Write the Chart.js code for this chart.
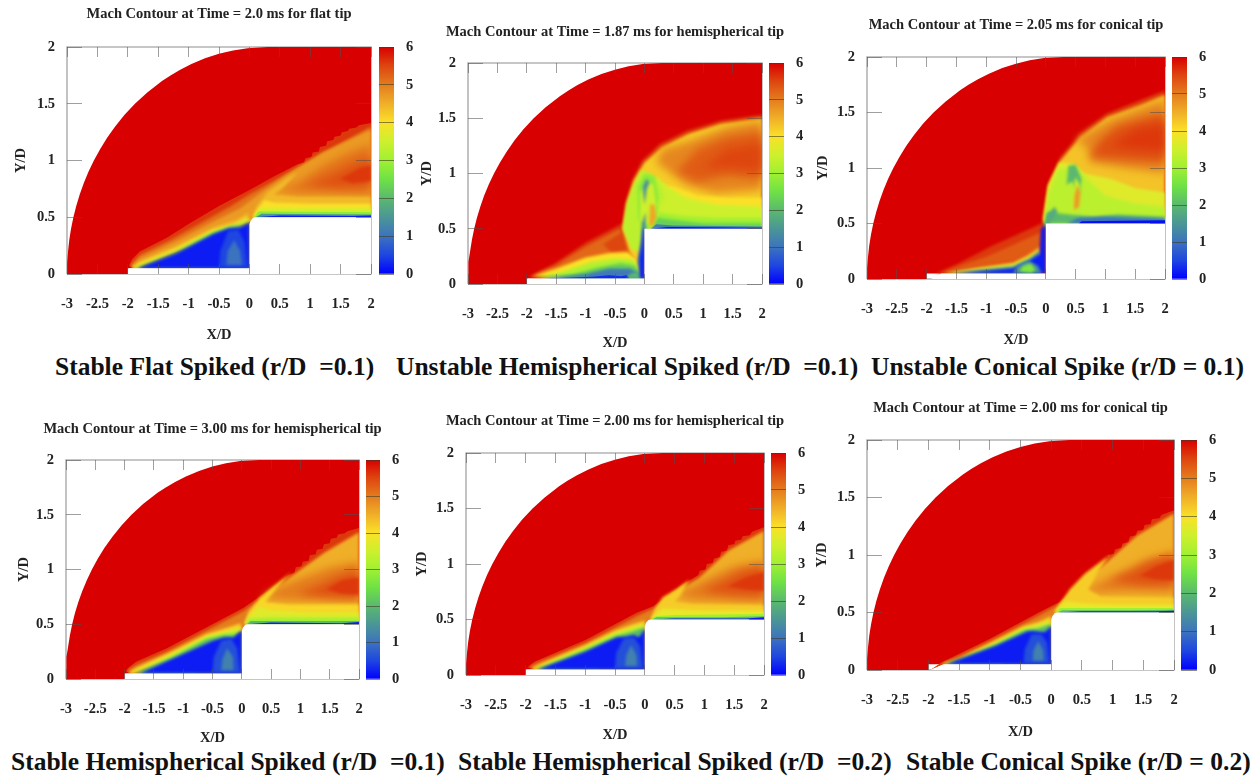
<!DOCTYPE html>
<html>
<head>
<meta charset="utf-8">
<title>Mach contours</title>
<script src="https://cdn.jsdelivr.net/npm/chart.js@4"></script>
<style>
  html, body { margin: 0; padding: 0; background: #fff; width: 1260px; height: 777px; overflow: hidden; }
  canvas { position: absolute; }
  .cap { position: absolute; font: bold 25.5px "Liberation Serif", serif; color: #111; white-space: pre; line-height: 28px; }
</style>
</head>
<body>
<script>
// axis values
const xTicks = [-3, -2.5, -2, -1.5, -1, -0.5, 0, 0.5, 1, 1.5, 2];
const yTicks = [0, 0.5, 1, 1.5, 2];
const barTicks = [0, 1, 2, 3, 4, 5, 6];

// colour bar, every half Mach
const barLevels = [0, 0.5, 1, 1.5, 2, 2.5, 3, 3.5, 4, 4.5, 5, 5.5, 6];
const barColors = [
  [0, 0, 255], [30, 70, 225], [60, 115, 190], [75, 150, 150], [90, 185, 110], [110, 225, 70], [160, 240, 50],
  [205, 240, 45], [250, 225, 40], [240, 175, 40], [228, 125, 30], [222, 70, 15], [216, 0, 0]
];
const barRange = [[0, 6]];

// plot frame
const frame = [[-3, 0], [2, 0], [2, 2], [-3, 2], [-3, 0]];

// outer shock, same in every panel
const bowShock = [
  [-3, 0], [-2.999, 0.05], [-2.996, 0.1], [-2.983, 0.2], [-2.963, 0.3], [-2.933, 0.4], [-2.895, 0.5], [-2.848, 0.6], [-2.791, 0.7],
  [-2.725, 0.8], [-2.647, 0.9], [-2.558, 1], [-2.456, 1.1], [-2.34, 1.2], [-2.208, 1.3], [-2.057, 1.4], [-1.883, 1.5], [-1.68, 1.6],
  [-1.438, 1.7], [-1.298, 1.75], [-1.138, 1.8], [-0.954, 1.85], [-0.73, 1.9], [-0.502, 1.94], [-0.269, 1.97], [-0.03, 1.99], [0.3, 2],
  [2, 2], [2, 0.5], [0, 0.05], [-2, 0.05], [-2, 0]
];

// white body + spike
const bodyRound = [[-2, 0], [-1.98, 0.05], [0, 0.05], [0, 0.44], [0.02, 0.47], [0.06, 0.495], [0.1, 0.5], [2, 0.5], [2, 0]];
const bodySharp = [[-2, 0], [-1.98, 0.05], [0, 0.05], [0, 0.5], [2, 0.5], [2, 0]];
const bodyCone = [[-1.97, 0], [-1.75, 0.05], [0, 0.05], [0, 0.44], [0.02, 0.47], [0.06, 0.495], [0.1, 0.5], [2, 0.5], [2, 0]];
const bodyConeSharp = [[-1.93, 0], [-1.75, 0.05], [0, 0.05], [0, 0.5], [2, 0.5], [2, 0]];

// panel 1, flat tip
const flatLevels = [5.6, 5.1, 4.7, 5.1, 5.4, 5.6, 4.4, 4.0, 3.5, 2.8, 1.5, 0.2, 4.4, 3.9, 3, 2, 0.2, 0.5, 1];
const flatOutlines = [
  [[-1.98, 0.07], [-1.93, 0.13], [-1.8, 0.2], [-1.36, 0.32], [-1, 0.44], [-0.5, 0.6], [0, 0.74], [0.4, 0.86], [0.8, 0.97], [0.9, 0.98], [0.92, 1.02], [1.02, 1.03], [1.04, 1.07], [1.14, 1.08], [1.16, 1.12], [1.26, 1.13], [1.28, 1.17], [1.38, 1.18], [1.4, 1.21], [1.5, 1.22], [1.52, 1.25], [1.62, 1.26], [1.64, 1.28], [1.76, 1.29], [1.8, 1.31], [2, 1.33], [2, 0.5], [0, 0.46], [-1.9, 0.05]],
  [[-1.95, 0.08], [-1.8, 0.17], [-1.3, 0.3], [-0.8, 0.45], [-0.3, 0.6], [0, 0.7], [0.4, 0.82], [0.8, 0.94], [1.4, 1.12], [2, 1.3], [2, 0.5], [0, 0.46], [-1.9, 0.05]],
  [[-1.93, 0.07], [-1.8, 0.14], [-1.2, 0.29], [-0.6, 0.46], [-0.15, 0.58], [0.2, 0.72], [0.6, 0.87], [1.2, 1.07], [2, 1.27], [2, 0.5], [0, 0.46], [-1.9, 0.05]],
  [[0.45, 0.74], [0.8, 0.8], [1.2, 0.95], [1.6, 1.06], [2, 1.14], [2, 0.7], [1.4, 0.72], [0.8, 0.72]],
  [[0.95, 0.78], [1.3, 0.86], [1.7, 0.97], [2, 1.03], [2, 0.78], [1.5, 0.76]],
  [[1.5, 0.84], [1.8, 0.93], [2, 0.96], [2, 0.82], [1.7, 0.8]],
  [[0.05, 0.5], [0.12, 0.6], [0.3, 0.72], [0.6, 0.84], [0.8, 0.9], [0.55, 0.76], [0.4, 0.7], [0.8, 0.68], [2, 0.68], [2, 0.5]],
  [[0.06, 0.5], [0.13, 0.57], [0.25, 0.65], [0.4, 0.63], [1, 0.62], [2, 0.62], [2, 0.5]],
  [[0.07, 0.5], [0.18, 0.58], [0.5, 0.58], [2, 0.58], [2, 0.5]],
  [[0.08, 0.5], [0.15, 0.55], [2, 0.545], [2, 0.5]],
  [[0.1, 0.5], [0.2, 0.53], [2, 0.525], [2, 0.5]],
  [[0.08, 0.5], [0.5, 0.515], [1.7, 0.51], [2, 0.515], [2, 0.5]],
  [[-1.93, 0.06], [-1.8, 0.11], [-1.2, 0.25], [-0.6, 0.41], [-0.2, 0.48], [-0.02, 0.54], [0, 0.46], [-1.9, 0.05]],
  [[-1.93, 0.05], [-1.8, 0.1], [-1.2, 0.23], [-0.6, 0.39], [-0.25, 0.44], [-0.05, 0.5], [0, 0.47], [-1.85, 0.05]],
  [[-1.92, 0.05], [-1.75, 0.085], [-1.2, 0.21], [-0.6, 0.375], [-0.25, 0.43], [-0.02, 0.48], [0, 0.47], [-1.85, 0.05]],
  [[-1.85, 0.05], [-1.2, 0.19], [-0.6, 0.36], [-0.3, 0.42], [-0.1, 0.43], [0, 0.46], [0, 0.05]],
  [[-1.83, 0.05], [-1.2, 0.18], [-0.6, 0.35], [-0.35, 0.4], [-0.15, 0.41], [0, 0.45], [0, 0.05]],
  [[-0.5, 0.06], [-0.48, 0.2], [-0.35, 0.38], [-0.18, 0.39], [-0.08, 0.28], [-0.03, 0.06]],
  [[-0.38, 0.08], [-0.36, 0.2], [-0.25, 0.3], [-0.15, 0.2], [-0.12, 0.08]]
];

// panel 2, unstable hemispherical
const unstableHemiLevels = [5.6, 5.2, 5.5, 4.2, 4.9, 5.3, 5.5, 4, 3.5, 3.3, 3, 2.3, 1.2, 0.1, 2.8, 3.5, 1.4, 4.6, 4, 3.2, 2.3, 1.1, 0.3, 2, 1.3, 0.2];
const unstableHemiOutlines = [
  [[-1.97, 0.06], [-1.88, 0.09], [-1.54, 0.18], [-0.98, 0.38], [-0.37, 0.55], [-0.33, 0.73], [-0.21, 0.94], [-0.04, 1.12], [0.27, 1.27], [0.72, 1.39], [1.29, 1.48], [2, 1.53], [2, 0.5], [0, 0.05], [-1.9, 0.05]],
  [[-1.85, 0.09], [-1.5, 0.17], [-1, 0.34], [-0.42, 0.5], [-0.25, 0.3], [-0.6, 0.2], [-1.2, 0.13]],
  [[-0.7, 0.36], [-0.38, 0.47], [-0.27, 0.31], [-0.55, 0.28]],
  [[-0.37, 0.5], [-0.3, 0.73], [-0.18, 0.94], [0, 1.1], [0.3, 1.24], [0.75, 1.36], [1.3, 1.45], [2, 1.5], [2, 0.5], [0, 0.5], [-0.1, 0.2], [-0.25, 0.28]],
  [[0.3, 1.22], [0.8, 1.3], [1.4, 1.42], [2, 1.48], [2, 0.85], [1.2, 0.82], [0.7, 0.9], [0.45, 1], [0.2, 1.1]],
  [[0.55, 1.02], [0.9, 1.22], [1.4, 1.33], [2, 1.38], [2, 0.95], [1.4, 0.98], [0.9, 0.92]],
  [[1, 1.05], [1.4, 1.22], [2, 1.28], [2, 1.02], [1.5, 1.05]],
  [[0.12, 0.5], [0.3, 0.9], [0.5, 0.88], [0.9, 0.8], [1.4, 0.78], [2, 0.78], [2, 0.5]],
  [[0.1, 0.5], [0.2, 0.98], [0.4, 0.88], [0.7, 0.78], [1.2, 0.72], [2, 0.7], [2, 0.5]],
  [[-0.37, 0.5], [-0.3, 0.73], [-0.2, 0.88], [-0.05, 1.03], [0.1, 1], [0.25, 0.92], [0.35, 0.8], [0.2, 0.6], [0.12, 0.5], [0, 0.5], [-0.08, 0.3], [-0.2, 0.3]],
  [[0.14, 0.5], [0.25, 0.65], [0.6, 0.62], [1.2, 0.6], [2, 0.6], [2, 0.5]],
  [[0.12, 0.5], [0.22, 0.6], [0.5, 0.58], [1, 0.55], [2, 0.55], [2, 0.5]],
  [[0.1, 0.5], [0.2, 0.54], [0.5, 0.53], [2, 0.52], [2, 0.5]],
  [[0.1, 0.5], [0.4, 0.515], [2, 0.51], [2, 0.5]],
  [[-0.1, 0.6], [-0.12, 0.88], [0, 1], [0.17, 0.98], [0.24, 0.8], [0.2, 0.6], [0.1, 0.5], [0, 0.5]],
  [[-0.06, 0.56], [-0.07, 0.82], [0.04, 0.93], [0.15, 0.9], [0.2, 0.72], [0.12, 0.52]],
  [[0, 0.72], [-0.03, 0.88], [0.03, 0.95], [0.09, 0.92], [0.04, 0.86], [0.02, 0.78]],
  [[0.08, 0.54], [0.1, 0.72], [0.17, 0.72], [0.2, 0.6], [0.14, 0.52]],
  [[-1.92, 0.07], [-1.5, 0.14], [-1, 0.24], [-0.6, 0.28], [-0.28, 0.29], [-0.1, 0.22], [-0.08, 0.05]],
  [[-1.85, 0.055], [-1.4, 0.11], [-0.9, 0.2], [-0.5, 0.23], [-0.2, 0.22], [-0.1, 0.15], [-0.08, 0.05]],
  [[-1.75, 0.05], [-1.2, 0.09], [-0.8, 0.15], [-0.4, 0.19], [-0.18, 0.17], [-0.1, 0.13], [-0.08, 0.05]],
  [[-1.7, 0.05], [-1, 0.09], [-0.6, 0.14], [-0.25, 0.14], [-0.1, 0.1], [-0.02, 0.05]],
  [[-1.7, 0.05], [-0.9, 0.065], [-0.6, 0.08], [-0.4, 0.07], [-0.3, 0.08], [-0.25, 0.05]],
  [[-0.3, 0.05], [-0.25, 0.09], [-0.13, 0.11], [-0.05, 0.07], [-0.03, 0.05]],
  [[-0.12, 0.2], [-0.06, 0.4], [-0.04, 0.55], [0.02, 0.65], [0.02, 0.5], [0, 0.05], [-0.06, 0.05]],
  [[-0.07, 0.05], [-0.08, 0.23], [-0.04, 0.35], [-0.02, 0.5], [0, 0.5], [0, 0.05]]
];

// panel 3, unstable conical
const unstableConeLevels = [5.6, 5.3, 4.4, 3.3, 1, 0.2, 1.4, 2.7, 4.3, 4.9, 5.4, 5.6, 3.7, 3.3, 2, 2, 3.4, 4.7, 1.8, 1, 0.1];
const unstableConeOutlines = [
  [[-1.94, 0.03], [-1.5, 0.13], [-0.9, 0.3], [-0.07, 0.5], [-0.04, 0.59], [0.04, 0.86], [0.24, 1.1], [0.57, 1.31], [1.02, 1.49], [1.58, 1.61], [2, 1.7], [2, 0.5], [0, 0.05], [-1.85, 0.05]],
  [[-1.7, 0.07], [-1, 0.2], [-0.5, 0.32], [-0.09, 0.42], [-0.1, 0.28], [-0.55, 0.16]],
  [[-1.75, 0.055], [-1.1, 0.11], [-0.55, 0.15], [-0.3, 0.22], [-0.1, 0.29], [-0.1, 0.24], [-0.55, 0.05]],
  [[-1.7, 0.05], [-0.55, 0.13], [-0.3, 0.19], [-0.1, 0.26], [-0.1, 0.2], [-0.5, 0.05]],
  [[-1.6, 0.05], [-0.55, 0.11], [-0.3, 0.17], [-0.1, 0.25], [-0.1, 0.05]],
  [[-1.5, 0.05], [-0.55, 0.09], [-0.3, 0.15], [-0.1, 0.22], [-0.08, 0.45], [0, 0.5], [0, 0.05]],
  [[-0.55, 0.05], [-0.48, 0.12], [-0.3, 0.17], [-0.13, 0.12], [-0.07, 0.05]],
  [[-0.45, 0.07], [-0.38, 0.12], [-0.25, 0.14], [-0.17, 0.08], [-0.25, 0.055]],
  [[-0.04, 0.55], [0.04, 0.84], [0.25, 1.07], [0.58, 1.28], [1.03, 1.46], [1.6, 1.57], [2, 1.66], [2, 0.5], [0, 0.5]],
  [[0.5, 1.25], [1.03, 1.42], [1.6, 1.54], [2, 1.62], [2, 0.95], [1.3, 1], [0.75, 1.05], [0.7, 1.18]],
  [[0.75, 1.1], [0.9, 1.25], [1.2, 1.38], [2, 1.5], [2, 1.05], [1.4, 1.07]],
  [[1.1, 1.2], [1.5, 1.35], [2, 1.4], [2, 1.15], [1.5, 1.17]],
  [[-0.04, 0.52], [0.04, 0.84], [0.22, 1.05], [0.45, 1.04], [0.65, 0.95], [1.1, 0.9], [1.5, 0.82], [2, 0.78], [2, 0.5], [0, 0.5]],
  [[-0.02, 0.5], [0.05, 0.78], [0.2, 0.98], [0.5, 1.03], [0.7, 0.9], [1, 0.75], [1.5, 0.68], [2, 0.65], [2, 0.5]],
  [[0, 0.5], [0.02, 0.6], [0.1, 0.6], [0.4, 0.58], [0.8, 0.56], [1.2, 0.58], [2, 0.56], [2, 0.5]],
  [[0.35, 0.85], [0.38, 1.02], [0.5, 1.03], [0.6, 0.9], [0.55, 0.72], [0.5, 0.8], [0.45, 0.88]],
  [[0.42, 0.6], [0.44, 0.78], [0.5, 0.92], [0.58, 0.84], [0.6, 0.65]],
  [[0.47, 0.62], [0.48, 0.75], [0.53, 0.85], [0.58, 0.78], [0.56, 0.65]],
  [[-0.03, 0.47], [0.02, 0.58], [0.15, 0.65], [0.2, 0.6], [0.1, 0.53], [0.03, 0.47]],
  [[0.35, 0.5], [0.55, 0.55], [1, 0.56], [2, 0.54], [2, 0.5]],
  [[0.55, 0.5], [0.6, 0.52], [2, 0.53], [2, 0.5]]
];

// panel 4, stable hemispherical r/D 0.1
const stableHemiLevels = [5.6, 5, 4.5, 5, 5.4, 5.6, 4.1, 3.7, 3, 2, 0.2, 4.2, 3.8, 3, 2, 0.2, 0.6, 1.2];
const stableHemiOutlines = [
  [[-1.98, 0.07], [-1.94, 0.1], [-1.8, 0.16], [-1.28, 0.28], [-0.43, 0.52], [0.03, 0.65], [0.43, 0.8], [0.8, 0.95], [0.9, 0.97], [0.92, 1.02], [1.02, 1.03], [1.04, 1.07], [1.14, 1.08], [1.16, 1.13], [1.26, 1.14], [1.28, 1.18], [1.38, 1.19], [1.4, 1.23], [1.5, 1.24], [1.52, 1.28], [1.62, 1.29], [1.64, 1.32], [1.76, 1.33], [1.8, 1.35], [2, 1.38], [2, 0.5], [0, 0.44], [-1.9, 0.05]],
  [[-1.94, 0.08], [-1.8, 0.13], [-1.28, 0.25], [-0.43, 0.49], [0.03, 0.62], [0.25, 0.71], [0.3, 0.6], [0.1, 0.5], [0, 0.44], [-1.9, 0.05]],
  [[0.03, 0.5], [0.12, 0.62], [0.43, 0.76], [0.8, 0.92], [1.4, 1.15], [2, 1.34], [2, 0.5]],
  [[0.31, 0.74], [0.6, 0.83], [1, 0.92], [1.5, 1.02], [2, 1.07], [2, 0.71], [1.4, 0.72], [0.8, 0.72]],
  [[0.95, 0.78], [1.3, 0.85], [1.6, 0.93], [2, 1], [2, 0.74], [1.5, 0.75]],
  [[1.45, 0.82], [1.7, 0.9], [2, 0.93], [2, 0.77], [1.7, 0.78]],
  [[0.05, 0.5], [0.12, 0.6], [0.3, 0.74], [0.55, 0.85], [0.85, 0.98], [0.55, 0.8], [0.4, 0.7], [0.8, 0.68], [2, 0.68], [2, 0.5]],
  [[0.06, 0.5], [0.13, 0.58], [0.3, 0.66], [0.5, 0.63], [1, 0.61], [2, 0.61], [2, 0.5]],
  [[0.07, 0.5], [0.12, 0.55], [0.5, 0.56], [2, 0.56], [2, 0.5]],
  [[0.08, 0.5], [0.15, 0.53], [2, 0.53], [2, 0.5]],
  [[0.08, 0.5], [0.5, 0.515], [1.7, 0.51], [2, 0.52], [2, 0.5]],
  [[-1.93, 0.06], [-1.8, 0.1], [-1.2, 0.25], [-0.6, 0.41], [-0.25, 0.47], [-0.02, 0.51], [0, 0.44], [-1.9, 0.05]],
  [[-1.92, 0.05], [-1.8, 0.09], [-1.2, 0.23], [-0.6, 0.395], [-0.25, 0.44], [-0.05, 0.47], [0, 0.45], [-1.85, 0.05]],
  [[-1.85, 0.05], [-1.7, 0.08], [-1.2, 0.21], [-0.6, 0.38], [-0.25, 0.42], [0, 0.45], [-0.8, 0.05]],
  [[-1.8, 0.05], [-1.2, 0.19], [-0.6, 0.36], [-0.3, 0.4], [-0.12, 0.4], [0, 0.44], [0, 0.05]],
  [[-1.74, 0.05], [-1.2, 0.18], [-0.49, 0.35], [-0.3, 0.38], [-0.14, 0.38], [0, 0.44], [0, 0.05]],
  [[-0.5, 0.06], [-0.48, 0.2], [-0.35, 0.35], [-0.18, 0.37], [-0.08, 0.28], [-0.03, 0.06]],
  [[-0.35, 0.08], [-0.33, 0.18], [-0.25, 0.28], [-0.15, 0.2], [-0.14, 0.08]]
];

// panel 5, stable hemispherical r/D 0.2
const bluntHemiLevels = [5.6, 5, 4.5, 5, 5.4, 5.6, 4.2, 3.8, 3, 2, 0.2, 4.2, 3.7, 3, 2, 0.2, 0.6, 1.2];
const bluntHemiOutlines = [
  [[-1.97, 0.07], [-1.85, 0.12], [-0.98, 0.32], [-0.14, 0.56], [0.145, 0.62], [0.59, 0.8], [0.9, 0.9], [0.92, 0.94], [1.02, 0.95], [1.04, 1], [1.14, 1.01], [1.16, 1.05], [1.26, 1.06], [1.28, 1.11], [1.38, 1.12], [1.4, 1.17], [1.5, 1.18], [1.52, 1.21], [1.62, 1.22], [1.64, 1.25], [1.76, 1.26], [1.8, 1.29], [2, 1.33], [2, 0.5], [0, 0.41], [-1.85, 0.05]],
  [[-1.93, 0.07], [-1.8, 0.11], [-0.98, 0.29], [-0.14, 0.53], [0.14, 0.6], [0.35, 0.68], [0.35, 0.58], [0.12, 0.5], [0, 0.41], [-1.85, 0.05]],
  [[0.1, 0.5], [0.2, 0.6], [0.59, 0.77], [0.9, 0.87], [1.4, 1.12], [2, 1.3], [2, 0.5]],
  [[0.5, 0.72], [0.8, 0.8], [1.1, 0.88], [1.5, 0.98], [2, 1.03], [2, 0.66], [1.4, 0.67], [0.8, 0.68]],
  [[0.95, 0.76], [1.3, 0.84], [1.6, 0.93], [2, 0.98], [2, 0.71], [1.5, 0.72]],
  [[1.4, 0.8], [1.7, 0.88], [2, 0.93], [2, 0.76], [1.7, 0.77]],
  [[0.1, 0.5], [0.16, 0.58], [0.3, 0.7], [0.55, 0.78], [0.75, 0.86], [0.6, 0.72], [0.5, 0.66], [0.8, 0.64], [2, 0.63], [2, 0.5]],
  [[0.1, 0.5], [0.18, 0.55], [0.3, 0.6], [0.6, 0.59], [1, 0.58], [2, 0.58], [2, 0.5]],
  [[0.1, 0.5], [0.18, 0.53], [0.5, 0.54], [2, 0.55], [2, 0.5]],
  [[0.12, 0.5], [0.2, 0.52], [1.3, 0.52], [2, 0.53], [2, 0.5]],
  [[0.12, 0.5], [0.5, 0.51], [1.7, 0.51], [2, 0.52], [2, 0.5]],
  [[-1.9, 0.06], [-1.7, 0.11], [-1, 0.27], [-0.5, 0.4], [-0.2, 0.46], [0, 0.49], [0, 0.41], [-1.85, 0.05]],
  [[-1.88, 0.05], [-1.7, 0.095], [-1, 0.25], [-0.5, 0.38], [-0.2, 0.43], [-0.03, 0.46], [0, 0.42], [-1.8, 0.05]],
  [[-1.84, 0.05], [-1.7, 0.08], [-1, 0.24], [-0.5, 0.365], [-0.2, 0.41], [0, 0.44], [-0.8, 0.05]],
  [[-1.8, 0.05], [-1, 0.22], [-0.47, 0.35], [-0.2, 0.39], [0, 0.43], [0, 0.05]],
  [[-1.79, 0.05], [-1, 0.21], [-0.47, 0.34], [-0.3, 0.345], [-0.19, 0.36], [-0.1, 0.34], [0, 0.41], [0, 0.05]],
  [[-0.5, 0.06], [-0.48, 0.2], [-0.35, 0.33], [-0.18, 0.34], [-0.08, 0.26], [-0.03, 0.06]],
  [[-0.33, 0.08], [-0.31, 0.18], [-0.23, 0.27], [-0.14, 0.18], [-0.13, 0.08]]
];

// panel 6, stable conical r/D 0.2
const stableConeLevels = [5.6, 5, 4.5, 5, 5.4, 5.6, 4.2, 3.8, 3, 2, 0.2, 4.2, 3.7, 3, 2, 0.2, 0.6, 1.2];
const stableConeOutlines = [
  [[-1.97, 0], [-1.8, 0.06], [-0.99, 0.275], [-0.18, 0.507], [0.15, 0.594], [0.47, 0.77], [0.91, 0.97], [0.92, 1], [1.02, 1.01], [1.04, 1.05], [1.14, 1.06], [1.16, 1.1], [1.26, 1.11], [1.28, 1.16], [1.38, 1.17], [1.4, 1.21], [1.5, 1.22], [1.52, 1.26], [1.62, 1.27], [1.64, 1.31], [1.76, 1.32], [1.8, 1.35], [2, 1.39], [2, 0.5], [0, 0.38], [-1.75, 0.05]],
  [[-1.85, 0.03], [-1.7, 0.07], [-0.99, 0.25], [-0.18, 0.48], [0.12, 0.57], [0.3, 0.66], [0.3, 0.56], [0.1, 0.5], [0, 0.38], [-1.75, 0.05]],
  [[0.05, 0.5], [0.2, 0.6], [0.47, 0.74], [0.91, 0.94], [1.4, 1.17], [2, 1.36], [2, 0.5]],
  [[0.5, 0.68], [0.8, 0.76], [1.1, 0.84], [1.5, 0.95], [2, 1.03], [2, 0.68], [1.4, 0.69], [0.8, 0.68]],
  [[0.95, 0.78], [1.3, 0.85], [1.6, 0.94], [2, 1], [2, 0.74], [1.5, 0.74]],
  [[1.45, 0.82], [1.7, 0.9], [2, 0.96], [2, 0.78], [1.7, 0.79]],
  [[0.05, 0.5], [0.13, 0.56], [0.3, 0.7], [0.55, 0.84], [0.95, 1], [0.75, 0.84], [0.6, 0.7], [0.8, 0.64], [2, 0.63], [2, 0.5]],
  [[0.06, 0.5], [0.14, 0.56], [0.25, 0.6], [0.5, 0.58], [1, 0.57], [2, 0.57], [2, 0.5]],
  [[0.08, 0.5], [0.14, 0.54], [0.5, 0.54], [2, 0.54], [2, 0.5]],
  [[0.1, 0.5], [0.18, 0.52], [1.3, 0.52], [2, 0.525], [2, 0.5]],
  [[0.1, 0.5], [0.5, 0.51], [1.7, 0.51], [2, 0.515], [2, 0.5]],
  [[-1.8, 0.05], [-1.5, 0.1], [-0.9, 0.26], [-0.45, 0.38], [-0.2, 0.42], [0, 0.47], [0, 0.38], [-1.7, 0.05]],
  [[-1.76, 0.05], [-1.5, 0.09], [-0.9, 0.24], [-0.45, 0.365], [-0.2, 0.395], [-0.03, 0.43], [0, 0.39], [-1.7, 0.05]],
  [[-1.74, 0.05], [-1.5, 0.085], [-0.9, 0.23], [-0.45, 0.355], [-0.2, 0.375], [0, 0.41], [-0.8, 0.05]],
  [[-1.72, 0.05], [-0.9, 0.22], [-0.42, 0.345], [-0.2, 0.36], [0, 0.4], [0, 0.05]],
  [[-1.7, 0.05], [-0.9, 0.21], [-0.39, 0.335], [-0.3, 0.34], [-0.18, 0.33], [-0.1, 0.33], [0, 0.38], [0, 0.05]],
  [[-0.45, 0.06], [-0.43, 0.18], [-0.32, 0.31], [-0.16, 0.31], [-0.07, 0.24], [-0.03, 0.06]],
  [[-0.3, 0.08], [-0.29, 0.17], [-0.21, 0.25], [-0.13, 0.17], [-0.12, 0.08]]
];

// placement of the six panels on the page
const panels = [
  { title: "Mach Contour at Time = 2.0 ms for flat tip", levels: flatLevels, outlines: flatOutlines, body: bodyRound,
    L: 67, R: 371, T: 47, B: 274, barL: 379, barR: 394, titleY: 14, xLabelY: 335, yLabelX: 22 },
  { title: "Mach Contour at Time = 1.87 ms for hemispherical tip", levels: unstableHemiLevels, outlines: unstableHemiOutlines, body: bodySharp,
    L: 468, R: 762, T: 63, B: 284, barL: 769, barR: 784, titleY: 32, xLabelY: 343, yLabelX: 428 },
  { title: "Mach Contour at Time = 2.05 ms for conical tip", levels: unstableConeLevels, outlines: unstableConeOutlines, body: bodyConeSharp,
    L: 867, R: 1165, T: 57, B: 279, barL: 1172, barR: 1187, titleY: 25, xLabelY: 340, yLabelX: 824 },
  { title: "Mach Contour at Time = 3.00 ms for hemispherical tip", levels: stableHemiLevels, outlines: stableHemiOutlines, body: bodyRound,
    L: 66, R: 359, T: 460, B: 679, barL: 366, barR: 380, titleY: 429, xLabelY: 738, yLabelX: 25 },
  { title: "Mach Contour at Time = 2.00 ms for hemispherical tip", levels: bluntHemiLevels, outlines: bluntHemiOutlines, body: bodyRound,
    L: 466, R: 764, T: 453, B: 675, barL: 771, barR: 786, titleY: 421, xLabelY: 735, yLabelX: 423 },
  { title: "Mach Contour at Time = 2.00 ms for conical tip", levels: stableConeLevels, outlines: stableConeOutlines, body: bodyCone,
    L: 867, R: 1174, T: 440, B: 670, barL: 1181, barR: 1197, titleY: 408, xLabelY: 732, yLabelX: 823 }
];

const captions = [
  ["Stable Flat Spiked (r/D  =0.1)", 55, 353],
  ["Unstable Hemispherical Spiked (r/D  =0.1)", 396, 353],
  ["Unstable Conical Spike (r/D = 0.1)", 871, 353],
  ["Stable Hemispherical Spiked (r/D  =0.1)", 11, 748],
  ["Stable Hemispherical Spiked (r/D  =0.2)", 458, 748],
  ["Stable Conical Spike (r/D = 0.2)", 906, 748]
];

Chart.defaults.font.family = '"Liberation Serif", serif';
Chart.defaults.font.weight = "bold";
Chart.defaults.color = "#222";

const frameColor = "#b4b4b4";
const tickColor = "rgba(80,80,80,0.55)";
const titleHeight = 18;

function machColor(m) {
  let i = 0;
  while (i < barLevels.length - 2 && m > barLevels[i + 1]) i++;
  const t = (m - barLevels[i]) / (barLevels[i + 1] - barLevels[i]);
  const c = barColors[i].map((v, k) => Math.round(v + (barColors[i + 1][k] - v) * t));
  return `rgb(${c[0]},${c[1]},${c[2]})`;
}

// wide floating lenses get a heavy blur, thin strips and toothed shock edges almost none
function softness(outline) {
  const xs = outline.map(p => p[0]);
  const ys = outline.map(p => p[1]);
  const w = Math.max(...xs) - Math.min(...xs);
  const h = Math.max(...ys) - Math.min(...ys);
  if (outline.length > 20) return 0.7;
  if (Math.min(...ys) >= 0.6 && w >= 0.7) return 4;
  if (h < 0.06) return 0.6;
  return 1.5;
}

function layer(outline, color, soft) {
  return {
    data: outline.map(p => ({ x: p[0], y: p[1] })),
    showLine: true,
    fill: "shape",
    backgroundColor: color,
    borderWidth: 0,
    pointRadius: 0,
    soft: soft === undefined ? softness(outline) : soft
  };
}

// the filler paints on beforeDatasetDraw, so the filter for a layer is set once the previous layer is done
const softEdges = {
  id: "softEdges",
  beforeDatasetsDraw(chart) { chart.ctx.filter = "none"; },
  afterDatasetDraw(chart, args) {
    const next = chart.data.datasets[args.index + 1];
    chart.ctx.filter = next ? `blur(${next.soft}px)` : "none";
  },
  afterDatasetsDraw(chart) { chart.ctx.filter = "none"; }
};

function addCanvas(left, top, width, height) {
  const c = document.createElement("canvas");
  c.width = width;
  c.height = height;
  c.style.left = left + "px";
  c.style.top = top + "px";
  document.body.appendChild(c);
  return c;
}

function fixedTicks(list) {
  return scale => { scale.ticks = list.map(v => ({ value: v })); };
}

function noPadding(s) {
  s.paddingLeft = s.paddingRight = s.paddingTop = s.paddingBottom = 0;
}

function drawPanel(p) {
  const left = p.yLabelX - 9;
  const top = p.titleY - 9;
  // same margin on both sides, the chart title is centred on the canvas
  const right = p.R + (p.L - left);
  const bottom = p.xLabelY + 9;

  const datasets = [{
    data: frame.map(q => ({ x: q[0], y: q[1] })),
    showLine: true,
    fill: false,
    borderColor: frameColor,
    borderWidth: 1.6,
    pointRadius: 0,
    clip: 4,
    soft: 0
  }];
  datasets.push(layer(bowShock, machColor(6), 0.7));
  p.levels.forEach((m, i) => datasets.push(layer(p.outlines[i], machColor(m))));
  datasets.push(layer(p.body, "#fff", 0.5));
  // first dataset has to be painted first
  datasets.forEach((d, i) => { d.order = datasets.length - i; });

  new Chart(addCanvas(left, top, right - left, bottom - top), {
    type: "scatter",
    data: { datasets },
    plugins: [softEdges],
    options: {
      responsive: false,
      animation: false,
      devicePixelRatio: 1,
      layout: { padding: 0 },
      plugins: {
        legend: { display: false },
        tooltip: { enabled: false },
        title: { display: true, text: p.title, padding: 0, color: "#222", font: { size: 14.5, weight: "bold", lineHeight: 18 / 14.5 } }
      },
      scales: {
        x: {
          type: "linear", position: "bottom", min: -3, max: 2,
          afterBuildTicks: fixedTicks(xTicks),
          afterFit(s) { s.height = bottom - p.B; noPadding(s); },
          grid: { drawOnChartArea: false, tickLength: -10, color: tickColor, z: 1 },
          border: { display: false },
          ticks: { autoSkip: false, maxRotation: 0, padding: 32, font: { size: 14.5 }, callback: v => String(v) },
          title: { display: true, text: "X/D", padding: 0, font: { size: 14.5 } }
        },
        xTop: {
          type: "linear", position: "top", min: -3, max: 2,
          afterBuildTicks: fixedTicks(xTicks),
          afterFit(s) { s.height = p.T - top - titleHeight; noPadding(s); },
          grid: { drawOnChartArea: false, tickLength: -10, color: tickColor, z: 1 },
          border: { display: false },
          ticks: { display: false }
        },
        y: {
          type: "linear", position: "left", min: 0, max: 2,
          afterBuildTicks: fixedTicks(yTicks),
          afterFit(s) { s.width = p.L - left; noPadding(s); },
          grid: { drawOnChartArea: false, tickLength: -15, color: tickColor, z: 1 },
          border: { display: false },
          ticks: { padding: 27, font: { size: 14.5 }, callback: v => String(v) },
          title: { display: true, text: "Y/D", padding: 0, font: { size: 14.5 } }
        },
        yRight: {
          type: "linear", position: "right", min: 0, max: 2,
          afterBuildTicks: fixedTicks(yTicks),
          afterFit(s) { s.width = right - p.R; noPadding(s); },
          grid: { drawOnChartArea: false, tickLength: -15, color: tickColor, z: 1 },
          border: { display: false },
          ticks: { display: false }
        }
      }
    }
  });

  // colour bar
  const barWidth = p.barR - p.barL;
  new Chart(addCanvas(p.barL, p.T - 10, barWidth + 30, p.B - p.T + 20), {
    type: "bar",
    data: {
      labels: ["Mach"],
      datasets: [{
        data: barRange,
        barPercentage: 1,
        categoryPercentage: 1,
        backgroundColor(ctx) {
          const area = ctx.chart.chartArea;
          if (!area) return machColor(3);
          const g = ctx.chart.ctx.createLinearGradient(0, area.bottom, 0, area.top);
          barLevels.forEach(m => g.addColorStop(m / 6, machColor(m)));
          return g;
        }
      }]
    },
    options: {
      responsive: false,
      animation: false,
      devicePixelRatio: 1,
      layout: { padding: { top: 10, bottom: 10 } },
      plugins: { legend: { display: false }, tooltip: { enabled: false } },
      scales: {
        x: { display: false },
        y: {
          position: "right", min: 0, max: 6,
          afterBuildTicks: fixedTicks(barTicks),
          afterFit(s) { s.width = 30; noPadding(s); },
          grid: { drawTicks: false, color: "rgba(60,60,40,0.6)", z: 1 },
          border: { display: false },
          ticks: { padding: 12, font: { size: 14.5 }, callback: v => String(v) }
        }
      }
    }
  });
}

panels.forEach(drawPanel);

captions.forEach(c => {
  const d = document.createElement("div");
  d.className = "cap";
  d.textContent = c[0];
  d.style.left = c[1] + "px";
  d.style.top = c[2] + "px";
  document.body.appendChild(d);
});
</script>
</body>
</html>
